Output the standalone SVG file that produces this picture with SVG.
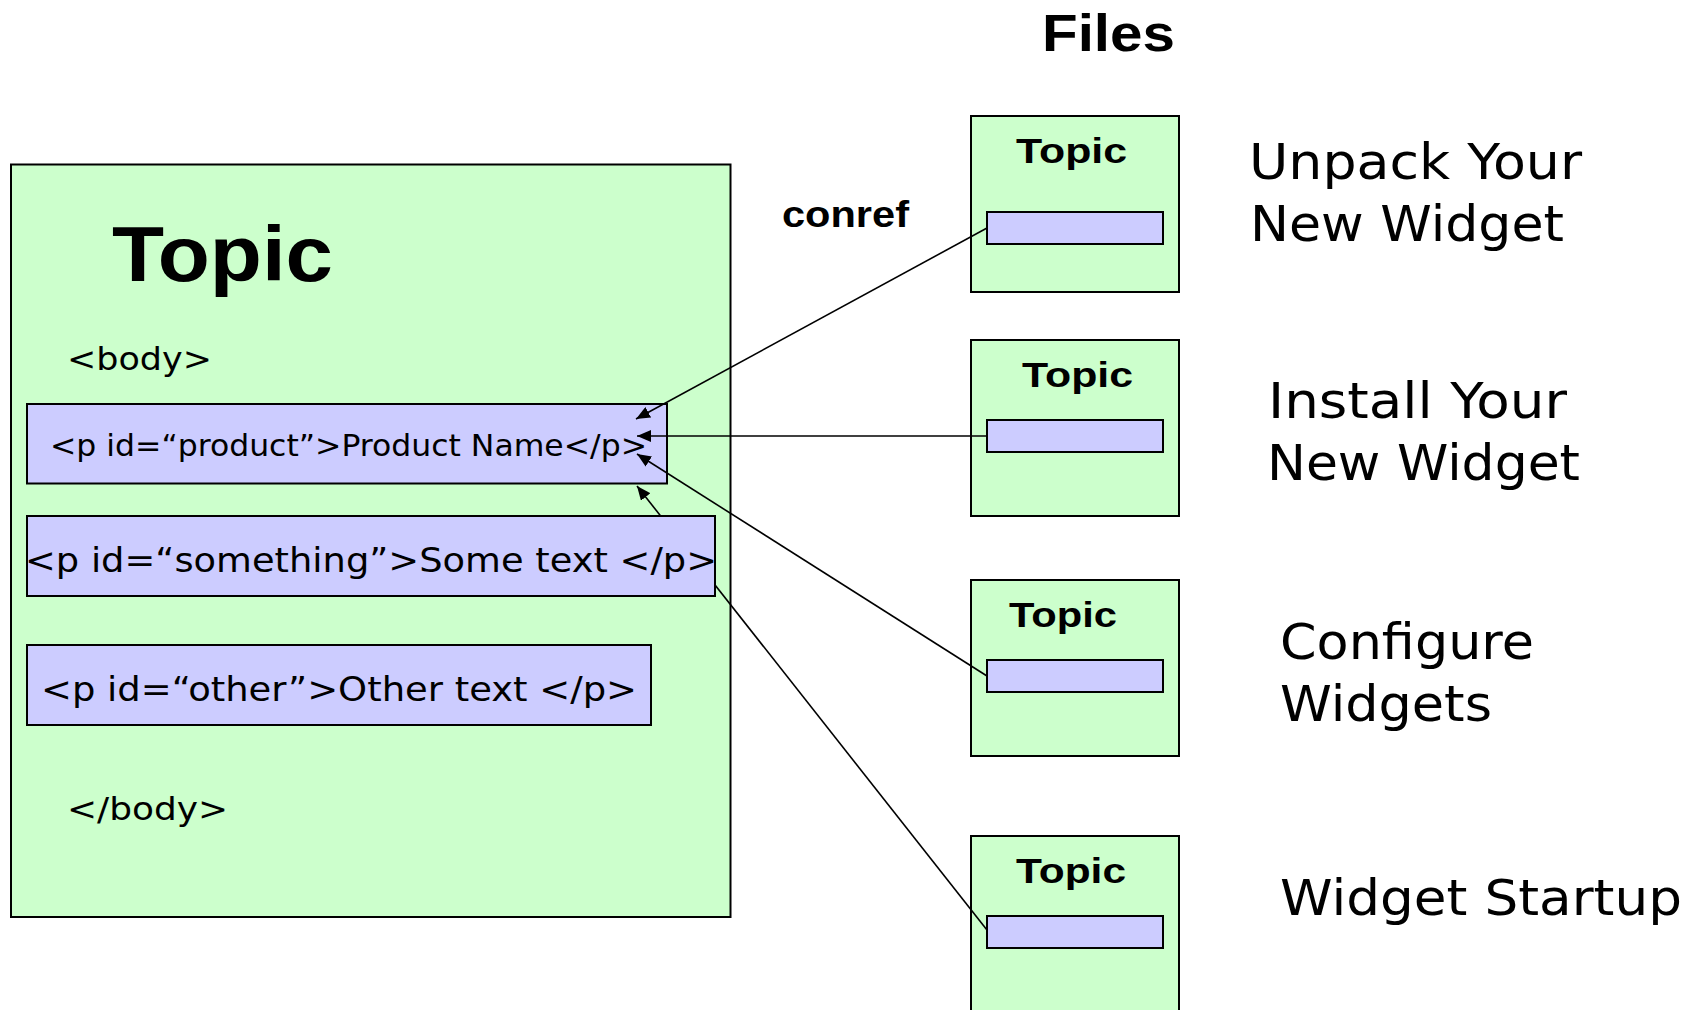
<svg xmlns="http://www.w3.org/2000/svg" width="1695" height="1010" viewBox="0 0 1695 1010">
  <style>
    .topic { fill: #CCFFCC; stroke: #000; stroke-width: 2; }
    .para { fill: #CCCCFF; stroke: #000; stroke-width: 2; }
    .bold { font-family: "Liberation Sans", Arial, sans-serif; font-weight: bold; fill: #000; }
    .plain { font-family: "DejaVu Sans", Verdana, sans-serif; fill: #000; }
    .link { stroke: #000; stroke-width: 1.6; fill: none; }
  </style>
  <defs>
    <marker id="arrow" markerUnits="userSpaceOnUse" markerWidth="15" markerHeight="12" refX="14" refY="6" orient="auto">
      <path d="M0,0 L14,6 L0,12 Z" fill="#000"/>
    </marker>
  </defs>

  <rect width="1695" height="1010" fill="#fff"/>

  <!-- heading over the file column -->
  <text id="files-title" class="bold" x="1042" y="51" font-size="52" textLength="133" lengthAdjust="spacingAndGlyphs">Files</text>
  <text id="conref-label" class="bold" x="782" y="227" font-size="36" textLength="127" lengthAdjust="spacingAndGlyphs">conref</text>

  <!-- main topic with its body paragraphs -->
  <g id="main-topic">
    <rect class="topic" x="11" y="164.5" width="719.5" height="752.5"/>
    <text class="bold" x="112" y="281" font-size="78" textLength="221" lengthAdjust="spacingAndGlyphs">Topic</text>
    <text class="plain" x="67" y="370" font-size="32" textLength="145" lengthAdjust="spacingAndGlyphs">&lt;body&gt;</text>
    <text class="plain" x="67" y="820" font-size="32" textLength="161" lengthAdjust="spacingAndGlyphs">&lt;/body&gt;</text>
  </g>

  <g id="p-product">
    <rect class="para" x="27" y="404" width="640" height="79.5"/>
    <text class="plain" x="50" y="456" font-size="30" textLength="597" lengthAdjust="spacingAndGlyphs">&lt;p id=“product”&gt;Product Name&lt;/p&gt;</text>
  </g>

  <g id="p-other">
    <rect class="para" x="27" y="645" width="624" height="80"/>
    <text class="plain" x="41" y="701" font-size="34" textLength="596" lengthAdjust="spacingAndGlyphs">&lt;p id=“other”&gt;Other text &lt;/p&gt;</text>
  </g>

  <!-- file topics -->
  <g id="file-unpack">
    <rect class="topic" x="971" y="116" width="208" height="176"/>
    <text class="bold" x="1016" y="163" font-size="35" textLength="111" lengthAdjust="spacingAndGlyphs">Topic</text>
    <rect class="para" x="987" y="212" width="176" height="32"/>
    <text class="plain" x="1249" y="179" font-size="50" textLength="333" lengthAdjust="spacingAndGlyphs">Unpack Your</text>
    <text class="plain" x="1250" y="241" font-size="50" textLength="314" lengthAdjust="spacingAndGlyphs">New Widget</text>
  </g>

  <g id="file-install">
    <rect class="topic" x="971" y="340" width="208" height="176"/>
    <text class="bold" x="1022" y="387" font-size="35" textLength="111" lengthAdjust="spacingAndGlyphs">Topic</text>
    <rect class="para" x="987" y="420" width="176" height="32"/>
    <text class="plain" x="1268" y="418" font-size="50" textLength="299" lengthAdjust="spacingAndGlyphs">Install Your</text>
    <text class="plain" x="1267" y="480" font-size="50" textLength="313" lengthAdjust="spacingAndGlyphs">New Widget</text>
  </g>

  <g id="file-configure">
    <rect class="topic" x="971" y="580" width="208" height="176"/>
    <text class="bold" x="1009" y="627" font-size="35" textLength="108" lengthAdjust="spacingAndGlyphs">Topic</text>
    <rect class="para" x="987" y="660" width="176" height="32"/>
    <text class="plain" x="1280" y="659" font-size="50" textLength="254" lengthAdjust="spacingAndGlyphs">Configure</text>
    <text class="plain" x="1280" y="721" font-size="50" textLength="212" lengthAdjust="spacingAndGlyphs">Widgets</text>
  </g>

  <g id="file-startup">
    <rect class="topic" x="971" y="836" width="208" height="190"/>
    <text class="bold" x="1016" y="883" font-size="35" textLength="110" lengthAdjust="spacingAndGlyphs">Topic</text>
    <rect class="para" x="987" y="916" width="176" height="32"/>
    <text class="plain" x="1280" y="915" font-size="50" textLength="402" lengthAdjust="spacingAndGlyphs">Widget Startup</text>
  </g>

  <!-- conref links from each file back to the product paragraph -->
  <g id="connectors">
    <line class="link" x1="987" y1="228" x2="636" y2="419" marker-end="url(#arrow)"/>
    <line class="link" x1="987" y1="436" x2="637" y2="436" marker-end="url(#arrow)"/>
    <line class="link" x1="987" y1="676" x2="637" y2="454" marker-end="url(#arrow)"/>
    <line class="link" x1="987" y1="930" x2="637" y2="486" marker-end="url(#arrow)"/>
  </g>

  <!-- drawn after the links so the last link passes behind it -->
  <g id="p-something">
    <rect class="para" x="27" y="516" width="688" height="80"/>
    <text class="plain" x="25" y="572" font-size="34" textLength="692" lengthAdjust="spacingAndGlyphs">&lt;p id=“something”&gt;Some text &lt;/p&gt;</text>
  </g>
</svg>
